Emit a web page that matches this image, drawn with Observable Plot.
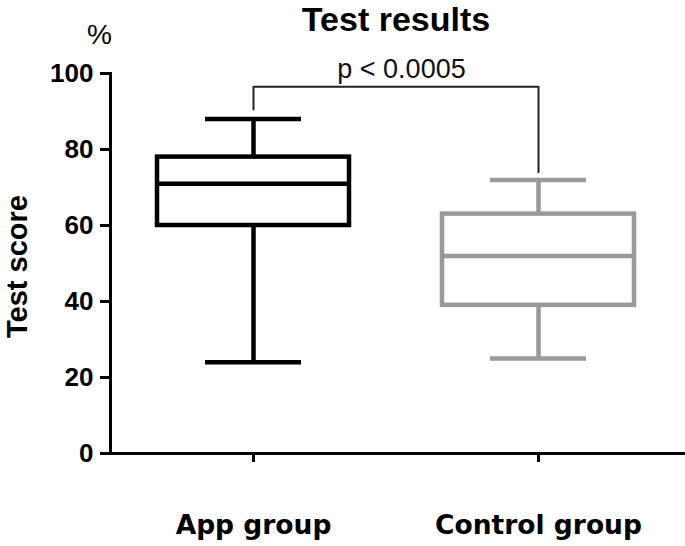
<!DOCTYPE html>
<html>
<head>
<meta charset="utf-8">
<script src="https://cdn.jsdelivr.net/npm/d3@7"></script>
<script src="https://cdn.jsdelivr.net/npm/@observablehq/plot@0.6"></script>
<style>
  html, body { margin: 0; padding: 0; background: #fff; }
</style>
</head>
<body>
<div id="chart"></div>
<script>
const groups = ["App group", "Control group"];
const mins = [24, 25];
const q1s = [60, 39];
const medians = [71, 52];
const q3s = [78, 63];
const maxs = [88, 72];
const bracketGroups = ["App group", "App group", "Control group", "Control group"];
const bracketValues = [90.5, 96.5, 96.5, 74];
const pLabel = "p < 0.0005";
const yTicks = [0, 20, 40, 60, 80, 100];
const titleText = "Test results";
const yLabel = "Test score";
const unitLabel = "%";

const rows = groups.map((g, i) => ({g, min: mins[i], q1: q1s[i], median: medians[i], q3: q3s[i], max: maxs[i]}));
const bracket = bracketGroups.map((g, i) => ({g, y: bracketValues[i]}));

const SW = 4.5;
const chart = Plot.plot({
  width: 685,
  height: 546,
  marginTop: 73,
  marginBottom: 93,
  marginLeft: 110,
  marginRight: 0,
  style: {fontFamily: "'Liberation Sans', Arial, sans-serif", background: "#fff", overflow: "visible", color: "#000"},
  x: {type: "band", domain: groups, range: [157, 635], paddingInner: 0.326, paddingOuter: 0, label: null},
  y: {domain: [0, 100], label: null},
  color: {domain: groups, range: ["#000000", "#999999"]},
  marks: [
    Plot.frame({anchor: "left", stroke: "#000", strokeWidth: 3}),
    Plot.ruleY([0], {insetLeft: -10, stroke: "#000", strokeWidth: 3}),
    Plot.axisY({ticks: yTicks, tickSize: 10, tickPadding: 7, fontSize: 26, fontWeight: "bold", strokeWidth: 3, label: null}),
    Plot.axisX({tickSize: 9, tickPadding: 53, fontSize: 26.5, fontWeight: "bold", fontFamily: "'DejaVu Sans', Verdana, sans-serif", strokeWidth: 3, label: null}),
    Plot.barY(rows, {x: "g", y1: "q1", y2: "q3", fill: "none", stroke: "g", strokeWidth: SW}),
    Plot.tickY(rows, {x: "g", y: "median", stroke: "g", strokeWidth: SW}),
    Plot.ruleX(rows, {x: "g", y1: "q3", y2: "max", stroke: "g", strokeWidth: SW}),
    Plot.ruleX(rows, {x: "g", y1: "min", y2: "q1", stroke: "g", strokeWidth: SW}),
    Plot.tickY(rows, {x: "g", y: "max", stroke: "g", strokeWidth: SW, insetLeft: 48, insetRight: 48}),
    Plot.tickY(rows, {x: "g", y: "min", stroke: "g", strokeWidth: SW, insetLeft: 48, insetRight: 48}),
    Plot.line(bracket, {x: "g", y: "y", stroke: "#222", strokeWidth: 2}),
    Plot.text([pLabel], {frameAnchor: "top", dx: 3.5, dy: -4.5, fontSize: 27, fontWeight: "normal", lineAnchor: "middle", textAnchor: "middle", fill: "#111"}),
    Plot.text([titleText], {frameAnchor: "top", dx: -2, dy: -53, fontSize: 34, fontWeight: "bold", lineAnchor: "middle", textAnchor: "middle"}),
    Plot.text([unitLabel], {frameAnchor: "top-left", dx: -11, dy: -38, fontSize: 28, fontWeight: "normal", lineAnchor: "middle", textAnchor: "middle"}),
    Plot.text([yLabel], {frameAnchor: "left", dx: -93, dy: 3, rotate: -90, fontSize: 29, fontWeight: "bold", lineAnchor: "middle", textAnchor: "middle"})
  ]
});
document.getElementById("chart").appendChild(chart);
</script>
</body>
</html>
